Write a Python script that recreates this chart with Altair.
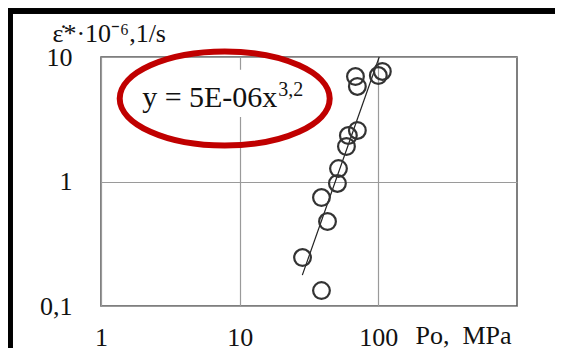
import altair as alt
import pandas as pd

# data
po = [28.4, 38.9, 38.9, 43.0, 50.7, 51.6, 58.9, 60.8, 70.6, 70.6, 68.4, 100.0, 106.9]
rate = [0.245, 0.133, 0.743, 0.477, 0.964, 1.27, 1.91, 2.34, 2.57, 5.80, 6.97, 7.10, 7.65]

trend_x = [28.3, 101.5]
trend_y = [0.177, 10.0]

x_ticks = [1, 10, 100]
y_ticks = [0.1, 1, 10]

eq_main = ["y = 5E-06x"]
eq_sup = ["3,2"]
eq_anchor_x = [18.7]
eq_anchor_y = [3.95]
eq_sup_y = [4.85]

ellipse_x = [7.8]
ellipse_y = [4.64]

box_x = [1.85]
box_x2 = [30.0]
box_y = [7.9]
box_y2 = [3.3]

SERIF = "Liberation Serif"

pts = pd.DataFrame({"x": po, "y": rate})
trend = pd.DataFrame({"x": trend_x, "y": trend_y})
eq = pd.DataFrame({"x": eq_anchor_x, "y": eq_anchor_y, "ys": eq_sup_y,
                   "t": eq_main, "s": eq_sup})
ell = pd.DataFrame({"x": ellipse_x, "y": ellipse_y})
box = pd.DataFrame({"x": box_x, "x2": box_x2, "y": box_y, "y2": box_y2})

xs = alt.Scale(type="log", domain=[1, 1000], nice=False)
ys = alt.Scale(type="log", domain=[0.1, 10], nice=False)

xaxis = alt.Axis(values=x_ticks, format="~g", labelFont=SERIF, labelFontSize=26,
                 labelColor="#111", labelPadding=18, ticks=False, tickSize=0,
                 domain=False, grid=True, gridColor="#9a9a9a", gridWidth=1.2,
                 title="Po,\u00a0\u00a0MPa", titleFont=SERIF, titleFontSize=26,
                 titleFontWeight="normal", titleColor="#111",
                 titleAlign="left", titleAnchor="start", titleBaseline="alphabetic",
                 titleX=314, titleY=37, labelFlush=False)
yaxis = alt.Axis(values=y_ticks, labelExpr="replace(format(datum.value, '~g'), '.', ',')",
                 labelFont=SERIF, labelFontSize=26, labelColor="#111",
                 labelPadding=29, ticks=False, tickSize=0, domain=False,
                 grid=True, gridColor="#9a9a9a", gridWidth=1.2,
                 title="ε̇*·10⁻⁶,1/s", titleFont=SERIF, titleFontSize=26,
                 titleFontWeight="normal", titleColor="#111", titleAngle=0,
                 titleAlign="left", titleAnchor="start", titleBaseline="alphabetic",
                 titleX=-49, titleY=-16, labelFlush=False)

points = alt.Chart(pts).mark_point(shape="circle", filled=False, size=280,
                                   stroke="#333", strokeWidth=2.2, opacity=1).encode(
    x=alt.X("x:Q", scale=xs, axis=xaxis),
    y=alt.Y("y:Q", scale=ys, axis=yaxis),
)

line = alt.Chart(trend).mark_line(color="#222", strokeWidth=1.2).encode(
    x=alt.X("x:Q", scale=xs), y=alt.Y("y:Q", scale=ys))

white = alt.Chart(box).mark_rect(fill="white").encode(
    x=alt.X("x:Q", scale=xs), x2="x2:Q", y=alt.Y("y:Q", scale=ys), y2="y2:Q")

ELLIPSE = ("M 1 0 C 1 0.2474 0.5523 0.448 0 0.448 C -0.5523 0.448 -1 0.2474 -1 0 "
           "C -1 -0.2474 -0.5523 -0.448 0 -0.448 C 0.5523 -0.448 1 -0.2474 1 0 Z")
ellipse = alt.Chart(ell).mark_point(shape=ELLIPSE, filled=False, size=44100,
                                    stroke="#C00000", strokeWidth=6, opacity=1).encode(
    x=alt.X("x:Q", scale=xs), y=alt.Y("y:Q", scale=ys))

eq_text = alt.Chart(eq).mark_text(font=SERIF, fontSize=30, align="right",
                                  baseline="alphabetic", color="#111").encode(
    x=alt.X("x:Q", scale=xs), y=alt.Y("y:Q", scale=ys), text="t:N")
sup_text = alt.Chart(eq).mark_text(font=SERIF, fontSize=20, align="left",
                                   baseline="alphabetic", color="#111", dx=1).encode(
    x=alt.X("x:Q", scale=xs), y=alt.Y("ys:Q", scale=ys), text="s:N")

frame_top = alt.Chart(pts).mark_rule(color="black", strokeWidth=4.5, strokeCap="butt").encode(
    x=alt.value(-93), x2=alt.value(460), y=alt.value(-46))
frame_left = alt.Chart(pts).mark_rule(color="black", strokeWidth=4.5, strokeCap="butt").encode(
    x=alt.value(-91), y=alt.value(-48), y2=alt.value(300))

chart = alt.layer(white, ellipse, eq_text, sup_text, line, points, frame_top, frame_left).properties(
    width=416, height=249,
    padding={"left": 93, "top": 49, "right": 38, "bottom": 42},
    autosize=alt.AutoSizeParams(type="none"),
).configure_view(stroke="#555", strokeWidth=1.5)

chart.save("out.html", embed_options={"renderer": "svg", "actions": False})
